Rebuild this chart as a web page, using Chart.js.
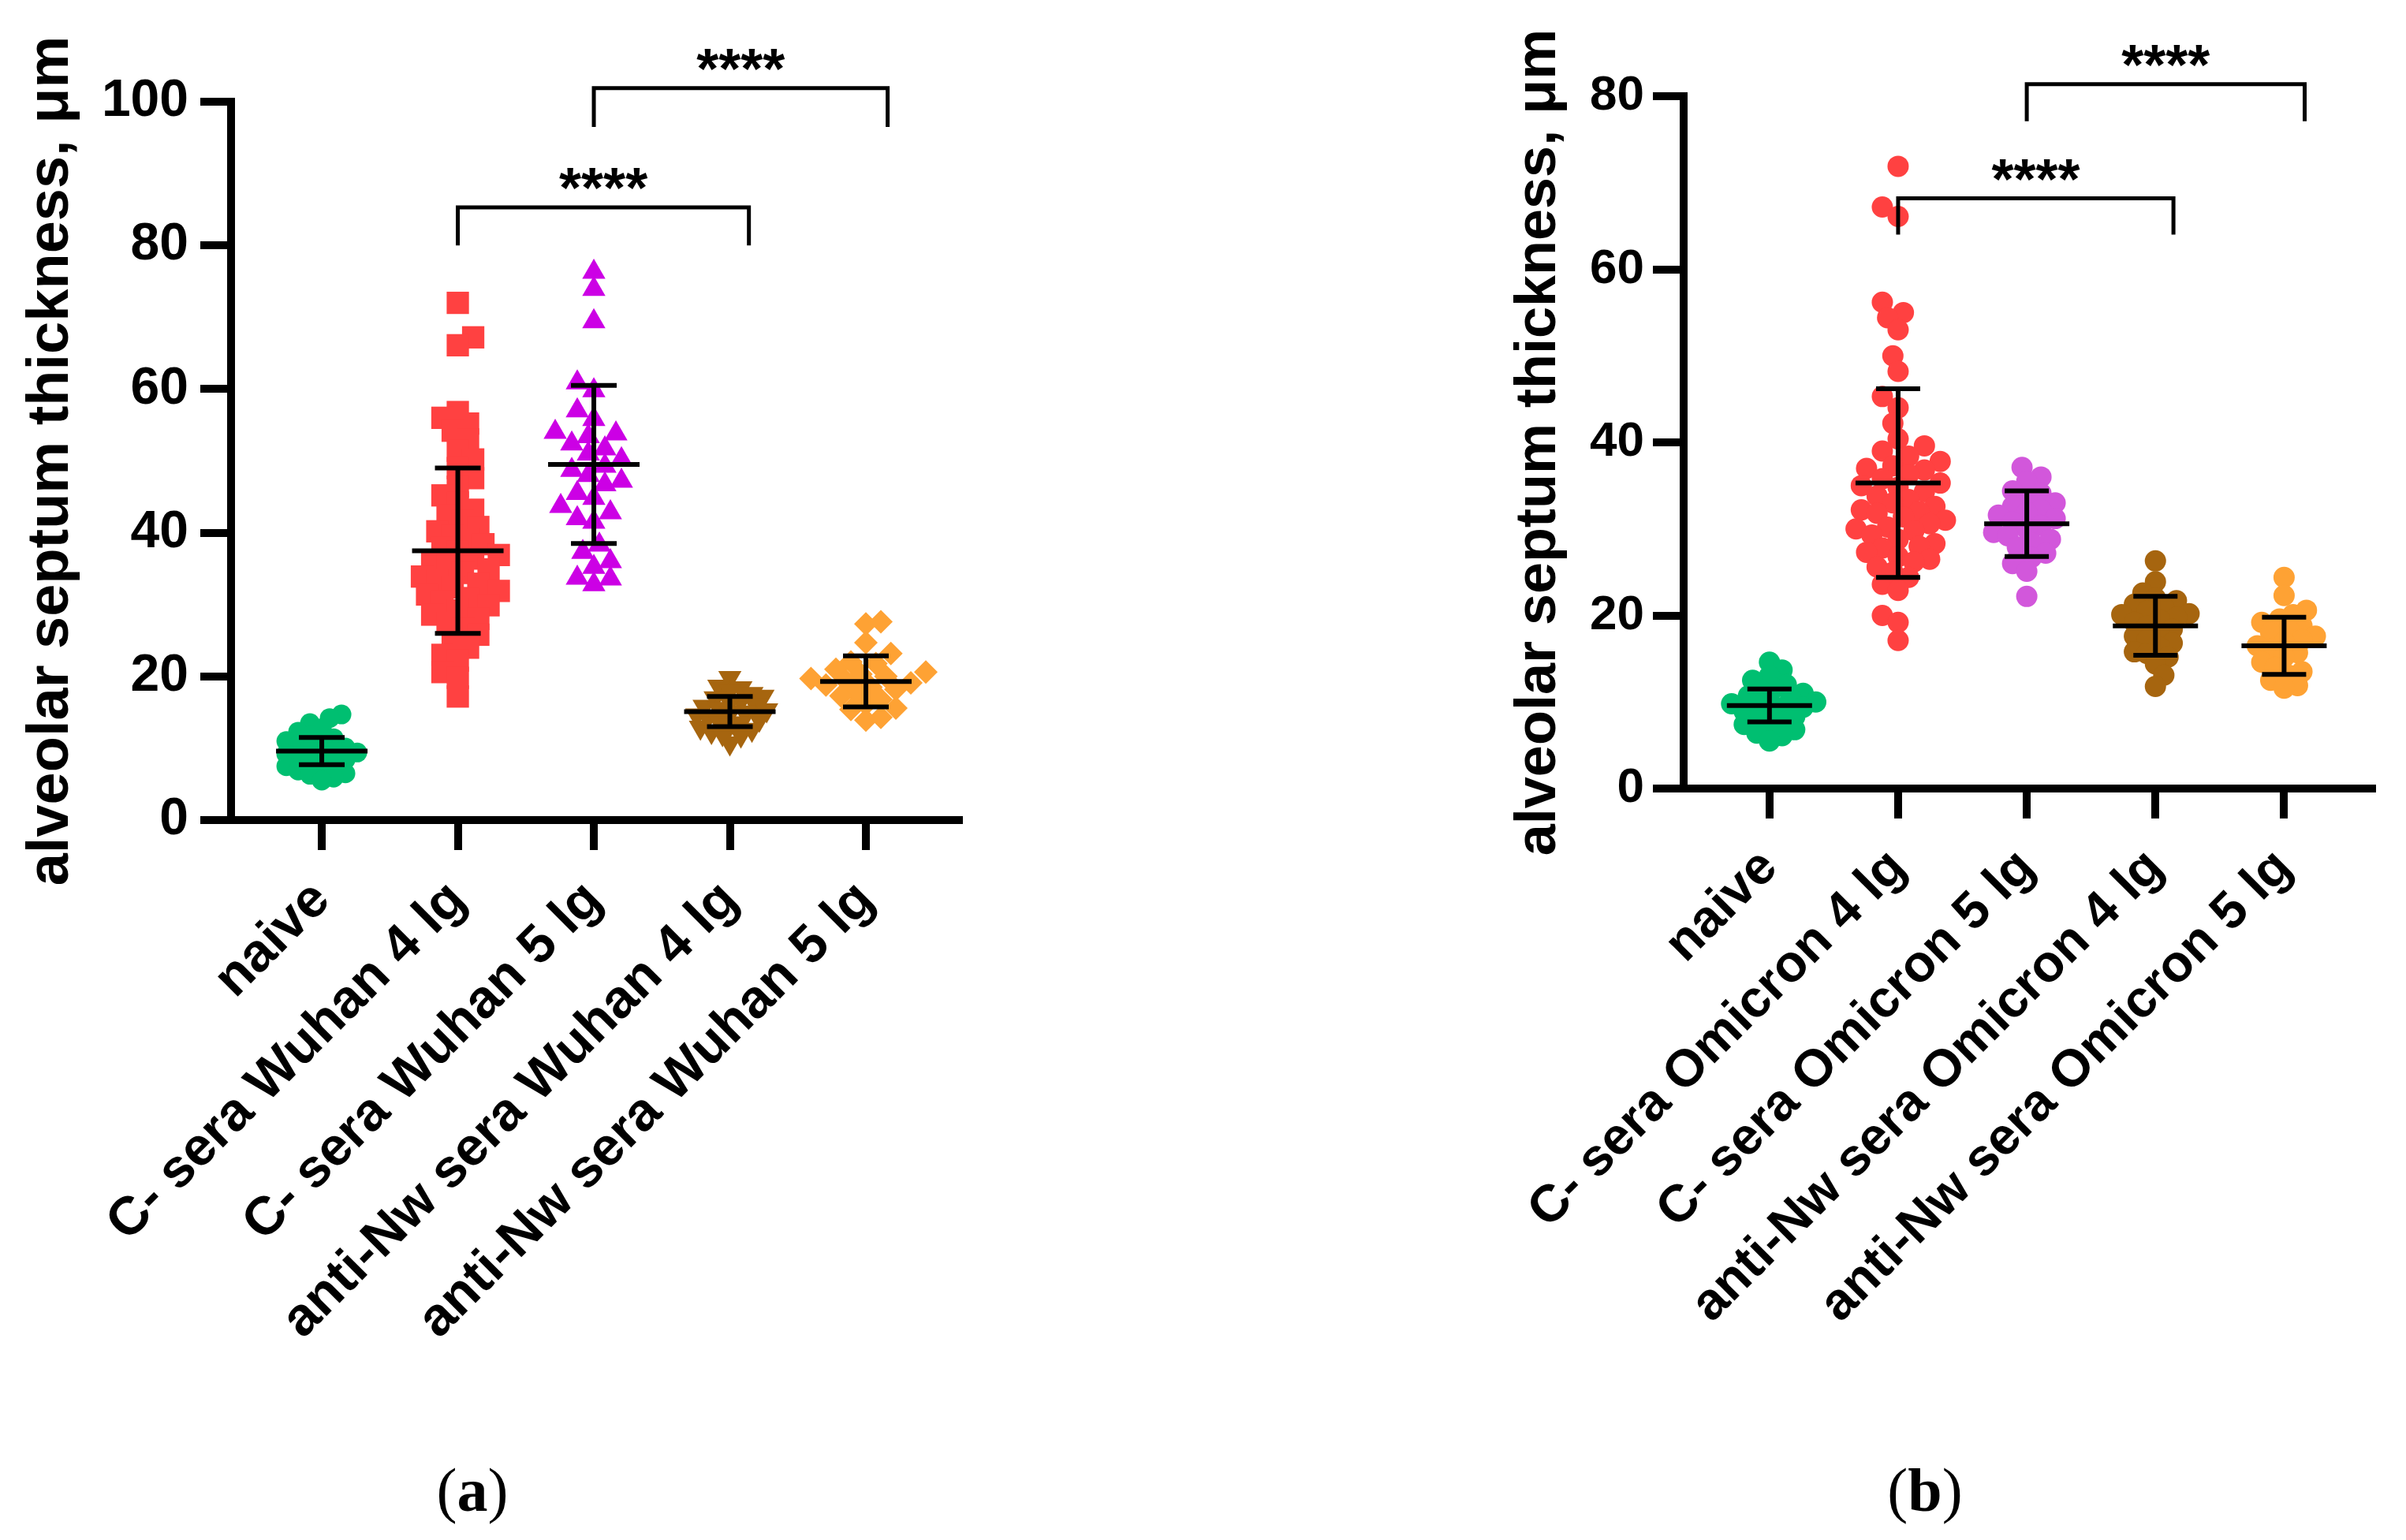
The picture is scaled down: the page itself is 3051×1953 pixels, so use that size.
<!DOCTYPE html>
<html>
<head>
<meta charset="utf-8">
<script src="https://cdn.jsdelivr.net/npm/chart.js@4.4.0/dist/chart.umd.min.js"></script>
<style>
  html, body { margin: 0; padding: 0; background: #fff; }
  #page { position: relative; width: 3051px; height: 1953px; overflow: hidden; background: #fff; }
  canvas { position: absolute; top: 0; }
  #chartA { left: 0; }
  #chartB { left: 1870px; }
  .caption { position: absolute; top: 1851px; width: 200px; text-align: center;
    font-family: "Liberation Serif", "DejaVu Serif", serif; font-size: 78px; line-height: 78px; color: #000; }
</style>
</head>
<body>
<div id="page">
  <canvas id="chartA" width="1300" height="1800"></canvas>
  <canvas id="chartB" width="1181" height="1800"></canvas>
  <div class="caption" style="left:499px">(<b>a</b>)</div>
  <div class="caption" style="left:2341px">(<b>b</b>)</div>
</div>
<script>
// ===== DATA: panel (a), Wuhan =====
var wuhanLabels = ['naive', 'C- sera Wuhan 4 lg', 'C- sera Wuhan 5 lg', 'anti-Nw sera Wuhan 4 lg', 'anti-Nw sera Wuhan 5 lg'];
var wuhanTicks = [0, 20, 40, 60, 80, 100];

var wuhanNaive = [14.7, 14.2, 13.5, 12.8, 12.3, 11.8, 11.4, 11.0, 10.7, 10.4, 10.1, 9.9, 9.7, 9.4, 9.2, 9.0, 8.7, 8.4, 8.1, 7.8, 7.5, 7.2, 6.9, 6.5, 6.3, 5.9, 5.5];
var wuhanC4 = [72.0, 67.2, 66.1, 56.8, 56.0, 55.2, 54.2, 53.0, 51.4, 50.2, 49.0, 47.6, 46.4, 45.2, 44.2, 43.2, 42.4, 41.6, 40.8, 40.2,
  39.6, 39.0, 38.4, 37.9, 37.4, 36.9, 36.4, 35.9, 35.4, 34.9, 34.4, 33.9, 33.4, 32.9, 32.4, 31.9, 31.4, 30.9, 30.4, 29.9,
  29.2, 28.6, 28.0, 27.4, 26.6, 25.8, 25.0, 24.0, 23.0, 22.2, 20.6, 19.8, 17.2];
var wuhanC5 = [76.3, 73.9, 69.4, 60.9, 59.8, 57.0, 55.8, 54.0, 53.8, 53.4, 52.4, 51.7, 51.0, 50.2, 49.3, 48.7, 48.0, 47.2, 46.7, 45.5,
  44.8, 43.7, 42.8, 42.0, 41.5, 38.3, 37.3, 36.0, 35.2, 33.7, 33.6, 32.8];
var wuhanNw4 = [19.8, 18.6, 18.4, 18.0, 17.6, 17.2, 17.0, 16.6, 16.4, 16.0, 15.8, 15.5, 15.3, 15.0, 14.8, 14.6, 14.3, 14.0, 13.8, 13.5,
  13.2, 12.9, 12.6, 12.3, 12.0, 11.8, 10.7];
var wuhanNw5 = [27.6, 27.3, 24.7, 23.2, 22.0, 21.8, 21.0, 20.6, 20.3, 20.0, 19.7, 19.4, 19.1, 18.8, 18.5, 18.2, 17.8, 17.3, 16.8, 16.1,
  15.6, 15.4, 14.3, 13.9];
var wuhanMean = [9.6, 37.5, 49.5, 15.1, 19.3];
var wuhanSD = [1.9, 11.5, 11.0, 2.1, 3.55];
var wuhanBracketFrom = [1, 2];
var wuhanBracketTo = [3.14, 4.16];
var wuhanBracketTop = [85.3, 101.9];
var wuhanBracketFoot = [80.0, 96.5];
var wuhanBracketText = ['****', '****'];

// ===== DATA: panel (b), Omicron =====
var omicronLabels = ['naive', 'C- sera Omicron 4 lg', 'C- sera Omicron 5 lg', 'anti-Nw sera Omicron 4 lg', 'anti-Nw sera Omicron 5 lg'];
var omicronTicks = [0, 20, 40, 60, 80];

var omicronNaive = [14.6, 13.7, 13.0, 12.5, 12.0, 11.6, 11.3, 11.0, 10.7, 10.4, 10.2, 10.0, 9.8, 9.6, 9.4, 9.2, 8.9, 8.6, 8.3, 8.0,
  7.7, 7.4, 7.1, 6.8, 6.4, 6.1, 5.5];
var omicronC4 = [71.9, 67.2, 66.1, 56.2, 55.0, 54.4, 53.0, 50.0, 48.2, 45.3, 44.0, 42.2, 40.4, 39.6, 39.0, 38.4, 37.8, 37.3, 37.0, 36.8,
  36.3, 35.8, 35.3, 35.0, 34.8, 34.3, 33.8, 33.4, 33.0, 32.6, 32.2, 32.0, 31.8, 31.4, 31.0, 30.6, 30.2, 30.0, 29.8, 29.3,
  28.8, 28.3, 28.0, 27.8, 27.3, 26.8, 26.5, 26.2, 25.6, 25.0, 24.4, 23.6, 22.9, 20.0, 19.2, 17.1];
var omicronC5 = [37.1, 36.0, 35.5, 34.4, 34.1, 33.6, 33.0, 32.6, 32.2, 31.9, 31.6, 31.2, 30.8, 30.4, 30.0, 29.6, 29.2, 28.8, 28.4, 27.9,
  27.2, 26.7, 26.0, 25.1, 22.2];
var omicronNw4 = [26.3, 23.9, 22.6, 22.0, 21.7, 21.3, 20.9, 20.5, 20.2, 20.1, 19.8, 19.5, 19.2, 18.8, 18.4, 18.0, 17.6, 17.2, 16.8, 16.3,
  15.8, 15.6, 15.2, 14.4, 13.1, 11.8];
var omicronNw5 = [24.4, 22.3, 20.6, 20.1, 19.6, 19.2, 18.8, 18.4, 18.0, 17.6, 17.2, 16.9, 16.5, 16.1, 15.7, 15.2, 14.6, 14.0, 13.5, 13.1,
  12.5, 11.9, 11.6];
var omicronMean = [9.6, 35.3, 30.6, 18.8, 16.5];
var omicronSD = [1.9, 10.9, 3.8, 3.4, 3.3];
var omicronBracketFrom = [1, 2];
var omicronBracketTo = [3.14, 4.16];
var omicronBracketTop = [68.2, 81.4];
var omicronBracketFoot = [64.0, 77.1];
var omicronBracketText = ['****', '****'];

// ===== STYLE =====
var SANS = '"Liberation Sans", Arial, sans-serif';
Chart.defaults.font.family = SANS;
Chart.defaults.color = '#000';

// ===== HELPERS =====
// simple beeswarm: spread points sideways so they do not pile up (pixel offsets)
function swarmOffsets(values, pxY, gap) {
    var order = values.map(function (v, i) { return i; });
    order.sort(function (a, b) { return values[a] - values[b]; });
    var placed = [], out = [], step = gap / 3, flip = 1;
    order.forEach(function (i) {
        var py = values[i] * pxY;
        for (var k = 0; k < 300; k++) {
            var off = flip * (k % 2 === 0 ? 1 : -1) * Math.ceil(k / 2) * step;
            var free = placed.every(function (p) {
                var dx = p.x - off, dy = p.y - py;
                return dx * dx + dy * dy >= gap * gap;
            });
            if (free) {
                placed.push({ x: off, y: py });
                out[i] = off;
                break;
            }
        }
        flip = -flip;
    });
    return out;
}

function makeExtras(cfg) {
    return {
        id: 'extras',
        afterDraw: function (chart) {
            var ctx = chart.ctx, xs = chart.scales.x, ys = chart.scales.y, area = chart.chartArea;
            ctx.save();
            ctx.strokeStyle = '#000';
            ctx.fillStyle = '#000';
            ctx.lineWidth = 6;
            ctx.lineCap = 'butt';
            ctx.lineJoin = 'miter';

            // mean +/- SD
            cfg.means.forEach(function (m, i) {
                var cx = xs.getPixelForValue(i);
                var ym = ys.getPixelForValue(m);
                var yh = ys.getPixelForValue(m + cfg.sds[i]);
                var yl = ys.getPixelForValue(m - cfg.sds[i]);
                ctx.beginPath();
                ctx.moveTo(cx, yh); ctx.lineTo(cx, yl);
                ctx.moveTo(cx - cfg.capHalf, yh); ctx.lineTo(cx + cfg.capHalf, yh);
                ctx.moveTo(cx - cfg.capHalf, yl); ctx.lineTo(cx + cfg.capHalf, yl);
                ctx.moveTo(cx - cfg.meanHalf, ym); ctx.lineTo(cx + cfg.meanHalf, ym);
                ctx.stroke();
            });

            // significance brackets
            ctx.lineWidth = 5;
            ctx.font = 'bold 72px ' + SANS;
            ctx.textAlign = 'center';
            ctx.textBaseline = 'alphabetic';
            cfg.bFrom.forEach(function (f, i) {
                var x1 = xs.getPixelForValue(f), x2 = xs.getPixelForValue(cfg.bTo[i]);
                var yt = ys.getPixelForValue(cfg.bTop[i]), yf = ys.getPixelForValue(cfg.bFoot[i]);
                ctx.beginPath();
                ctx.moveTo(x1, yf); ctx.lineTo(x1, yt); ctx.lineTo(x2, yt); ctx.lineTo(x2, yf);
                ctx.stroke();
                ctx.fillText(cfg.bText[i], (x1 + x2) / 2, yt);
            });

            // y axis title
            ctx.font = 'bold ' + cfg.titleSize + 'px ' + SANS;
            ctx.translate(area.left - cfg.titleGap, (area.top + area.bottom) / 2);
            ctx.rotate(-Math.PI / 2);
            ctx.fillText('alveolar septum thickness, \u03bcm', 0, 0);
            ctx.restore();
        }
    };
}

function makePanel(cfg) {
    var chart = new Chart(document.getElementById(cfg.canvas), {
        type: 'scatter',
        data: {
            datasets: cfg.groups.map(function (vals, g) {
                return {
                    data: vals.map(function (v) { return { x: g, y: v }; }),
                    backgroundColor: cfg.colors[g],
                    borderWidth: 0,
                    pointStyle: cfg.styles[g],
                    pointRotation: cfg.rotations[g],
                    pointRadius: cfg.radii[g],
                    pointHoverRadius: cfg.radii[g]
                };
            })
        },
        options: {
            responsive: false,
            animation: false,
            devicePixelRatio: 1,
            events: [],
            layout: { padding: cfg.padding },
            plugins: { legend: { display: false }, tooltip: { enabled: false } },
            scales: {
                x: {
                    type: 'linear',
                    min: -0.667,
                    max: 4.684,
                    afterBuildTicks: function (s) {
                        s.ticks = cfg.labels.map(function (l, i) { return { value: i }; });
                    },
                    afterFit: function (s) { s.height = cfg.xHeight; },
                    ticks: {
                        autoSkip: false,
                        minRotation: 45,
                        maxRotation: 45,
                        padding: 24,
                        color: '#000',
                        font: { size: cfg.xFont, weight: 'bold' },
                        callback: function (v) { return cfg.labels[v]; }
                    },
                    grid: { drawOnChartArea: false, color: '#000', lineWidth: 10, tickLength: 38 },
                    border: { color: '#000', width: 10 }
                },
                y: {
                    min: 0,
                    max: cfg.yTicks[cfg.yTicks.length - 1],
                    afterBuildTicks: function (s) {
                        s.ticks = cfg.yTicks.map(function (v) { return { value: v }; });
                    },
                    afterFit: function (s) { s.width = cfg.yWidth; },
                    ticks: { padding: cfg.yPad, color: '#000', font: { size: cfg.yFont, weight: 'bold' } },
                    grid: { drawOnChartArea: false, color: '#000', lineWidth: 10, tickLength: 39 },
                    border: { color: '#000', width: 10 }
                }
            }
        },
        plugins: [makeExtras(cfg)]
    });

    // spread the dots sideways using the real scale sizes
    var pxX = chart.scales.x.getPixelForValue(1) - chart.scales.x.getPixelForValue(0);
    var pxY = chart.scales.y.getPixelForValue(0) - chart.scales.y.getPixelForValue(1);
    cfg.groups.forEach(function (vals, g) {
        var offs = swarmOffsets(vals, pxY, cfg.gaps[g]);
        chart.data.datasets[g].data = vals.map(function (v, i) { return { x: g + offs[i] / pxX, y: v }; });
    });
    chart.update();
    return chart;
}

// ===== INITIALIZATION =====
makePanel({
    canvas: 'chartA',
    labels: wuhanLabels,
    yTicks: wuhanTicks,
    groups: [wuhanNaive, wuhanC4, wuhanC5, wuhanNw4, wuhanNw5],
    means: wuhanMean, sds: wuhanSD,
    bFrom: wuhanBracketFrom, bTo: wuhanBracketTo, bTop: wuhanBracketTop, bFoot: wuhanBracketFoot, bText: wuhanBracketText,
    colors: ['#00bf71', '#ff4141', '#cc00e5', '#a6650f', '#fea234'],
    styles: ['circle', 'rect', 'triangle', 'triangle', 'rectRot'],
    rotations: [0, 0, 0, 180, 0],
    radii: [12.5, 20, 17, 17, 15],
    gaps: [15, 19.5, 21, 14, 19],
    padding: { left: 0, top: 129, right: 84, bottom: 0 },
    xHeight: 760, yWidth: 293, yPad: 15, xFont: 68, yFont: 66,
    titleGap: 207, titleSize: 74,
    capHalf: 29, meanHalf: 58
});

makePanel({
    canvas: 'chartB',
    labels: omicronLabels,
    yTicks: omicronTicks,
    groups: [omicronNaive, omicronC4, omicronC5, omicronNw4, omicronNw5],
    means: omicronMean, sds: omicronSD,
    bFrom: omicronBracketFrom, bTo: omicronBracketTo, bTop: omicronBracketTop, bFoot: omicronBracketFoot, bText: omicronBracketText,
    colors: ['#00bf71', '#ff4141', '#d257db', '#a6650f', '#fea234'],
    styles: ['circle', 'circle', 'circle', 'circle', 'circle'],
    rotations: [0, 0, 0, 0, 0],
    radii: [13.5, 13.5, 13.5, 13.5, 13.5],
    gaps: [16, 20, 18, 16, 17],
    padding: { left: 0, top: 122, right: 43, bottom: 0 },
    xHeight: 800, yWidth: 265, yPad: 11, xFont: 66, yFont: 62,
    titleGap: 163, titleSize: 72,
    capHalf: 28, meanHalf: 54
});
</script>
</body>
</html>
